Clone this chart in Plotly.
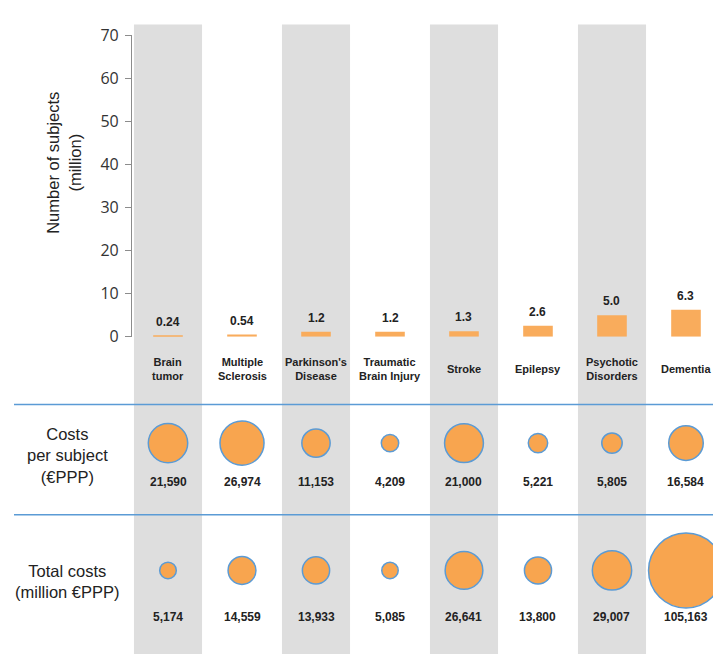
import plotly.graph_objects as go

# Neurological disorders: prevalence and costs
categories = ["Brain tumor", "Multiple Sclerosis", "Parkinson's Disease",
              "Traumatic Brain Injury", "Stroke", "Epilepsy",
              "Psychotic Disorders", "Dementia"]
category_labels = ["Brain<br>tumor", "Multiple<br>Sclerosis", "Parkinson's<br>Disease",
                   "Traumatic<br>Brain Injury", "Stroke", "Epilepsy",
                   "Psychotic<br>Disorders", "Dementia"]
subjects_million = [0.24, 0.54, 1.2, 1.2, 1.3, 2.6, 5.0, 6.3]
cost_per_subject = [21590, 26974, 11153, 4209, 21000, 5221, 5805, 16584]
total_costs = [5174, 14559, 13933, 5085, 26641, 13800, 29007, 105163]
y_ticks = [0, 10, 20, 30, 40, 50, 60, 70]

ORANGE = "#F8A54F"
BAR_ORANGE = "#F9AC5C"
BLUE = "#5B9BD5"
BAND = "#DEDEDE"
TXT = "#222222"

W, H = 713, 665


def py(px):
    """Convert a pixel row (from top) to paper y."""
    return (H - px) / H


def fmt_subjects(v):
    return f"{v:.2f}" if v < 1 else f"{v:.1f}"


fig = go.Figure()

# Bars: number of subjects
fig.add_trace(go.Bar(
    x=categories, y=subjects_million, width=0.4,
    marker=dict(color=BAR_ORANGE, line=dict(width=0)),
    xaxis="x", yaxis="y", hoverinfo="x+y",
))

# Bubbles: costs per subject (area ~ value)
fig.add_trace(go.Scatter(
    x=categories, y=[0.65] * len(categories), mode="markers",
    marker=dict(size=cost_per_subject, sizemode="area", sizeref=27.8, opacity=1,
                color=ORANGE, line=dict(color=BLUE, width=1.5)),
    xaxis="x", yaxis="y2", cliponaxis=False, hoverinfo="x+text",
    text=[f"{v:,}" for v in cost_per_subject],
))

# Bubbles: total costs (area ~ value)
fig.add_trace(go.Scatter(
    x=categories, y=[0.60] * len(categories), mode="markers",
    marker=dict(size=total_costs, sizemode="area", sizeref=37.5, opacity=1,
                color=ORANGE, line=dict(color=BLUE, width=1.5)),
    xaxis="x", yaxis="y3", cliponaxis=False, hoverinfo="x+text",
    text=[f"{v:,}" for v in total_costs],
))

shapes = []
# Alternating grey column bands
for i in range(0, len(categories), 2):
    shapes.append(dict(type="rect", xref="x", yref="paper",
                       x0=i - 0.46, x1=i + 0.46, y0=0, y1=py(14),
                       fillcolor=BAND, line=dict(width=0), layer="below"))
# Blue section separators
for yy in (407, 521):
    shapes.append(dict(type="line", xref="paper", yref="paper",
                       x0=14 / W, x1=1, y0=py(yy), y1=py(yy),
                       line=dict(color=BLUE, width=1.5)))

annotations = []
bold = dict(family="Liberation Sans, Arial, sans-serif", size=12, color=TXT, weight=700)
for c, v in zip(categories, subjects_million):
    annotations.append(dict(x=c, y=v, xref="x", yref="y", text=fmt_subjects(v),
                            showarrow=False, yanchor="bottom", yshift=5, font=bold))
for c, lab in zip(categories, category_labels):
    annotations.append(dict(x=c, y=py(370), xref="x", yref="paper", text=lab,
                            showarrow=False, yanchor="middle",
                            font=dict(bold, size=11)))
for c, v in zip(categories, cost_per_subject):
    annotations.append(dict(x=c, y=0.30, xref="x", yref="y2", text=f"{v:,}",
                            showarrow=False, yanchor="middle", font=bold))
for c, v in zip(categories, total_costs):
    annotations.append(dict(x=c, y=0.265, xref="x", yref="y3", text=f"{v:,}",
                            showarrow=False, yanchor="middle", font=bold))

row_font = dict(family="Liberation Sans, Arial, sans-serif", size=16.5, color=TXT)
annotations += [
    dict(x=64 / W, y=py(157), xref="paper", yref="paper",
         text="Number of subjects<br>(million)", textangle=-90, showarrow=False,
         xanchor="center", yanchor="middle", font=row_font),
    dict(x=67 / W, y=py(460), xref="paper", yref="paper",
         text="Costs<br>per subject<br>(€PPP)", showarrow=False,
         xanchor="center", yanchor="middle", font=row_font),
    dict(x=67 / W, y=py(590), xref="paper", yref="paper",
         text="Total costs<br>(million €PPP)", showarrow=False,
         xanchor="center", yanchor="middle", font=row_font),
]

fig.update_layout(
    width=W, height=H,
    margin=dict(l=0, r=0, t=0, b=0),
    paper_bgcolor="white", plot_bgcolor="rgba(0,0,0,0)",
    showlegend=False,
    shapes=shapes, annotations=annotations,
    xaxis=dict(domain=[131 / W, 1], range=[-0.5, 7.365], anchor="y",
               showticklabels=False, showgrid=False, zeroline=False,
               showline=False, ticks="", fixedrange=True),
    yaxis=dict(domain=[py(337), py(25)], range=[0, 70], anchor="free", position=131 / W,
               tickvals=y_ticks, ticks="outside", ticklen=6, tickcolor="#8C8C8C",
               showline=True, linecolor="#8C8C8C", linewidth=1.2,
               showgrid=False, zeroline=False, ticklabelstandoff=3,
               tickfont=dict(family="Open Sans, sans-serif", size=16, color="#333333")),
    yaxis2=dict(domain=[py(521), py(407)], range=[0, 1], anchor="x", visible=False),
    yaxis3=dict(domain=[0, py(521)], range=[0, 1], anchor="x", visible=False),
)

fig.write_html("out.html")
